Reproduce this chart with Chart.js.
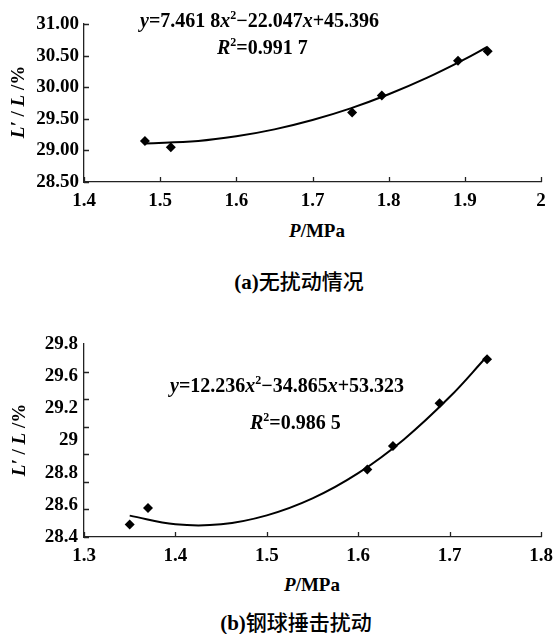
<!DOCTYPE html>
<html>
<head>
<meta charset="utf-8">
<script src="https://cdn.jsdelivr.net/npm/chart.js@4"></script>
<style>
  body { margin: 0; background: #fff; }
  #page { position: relative; width: 556px; height: 634px; overflow: hidden; font-family: 'Liberation Serif', 'Times New Roman', 'DejaVu Serif', serif; color: #000; }
  .box { position: absolute; left: 0; width: 556px; }
  .txt { position: absolute; white-space: nowrap; font-weight: bold; line-height: 1; }
  .eq { font-size: 20px; }
  .ytitle { font-size: 19px; transform: translate(-50%, -50%) rotate(-90deg); }
  .xtitle { font-size: 19px; transform: translate(-50%, -50%); }
  .cap { font-size: 21px; transform: translate(-50%, -50%); }
  .cap .cn { font-family: 'Noto Sans CJK SC', sans-serif; font-weight: 500; }
  sup { font-size: 12px; vertical-align: 8px; line-height: 0; }
</style>
</head>
<body>
<div id="page">
  <div class="box" style="top:0;height:215px"><canvas id="chartA"></canvas></div>
  <div class="box" style="top:320px;height:250px"><canvas id="chartB"></canvas></div>

  <div class="txt eq" style="left:140px;top:10px"><i>y</i>=7.461 8<i>x</i><sup>2</sup>−22.047<i>x</i>+45.396</div>
  <div class="txt eq" style="left:217px;top:37px"><i>R</i><sup>2</sup>=0.991 7</div>
  <div class="txt ytitle" style="left:17px;top:102px"><i>L′</i> / <i>L</i> /%</div>
  <div class="txt xtitle" style="left:317px;top:230px"><i>P</i>/MPa</div>
  <div class="txt cap" style="left:299px;top:281px">(a)<span class="cn">无扰动情况</span></div>

  <div class="txt eq" style="left:170px;top:375px"><i>y</i>=12.236<i>x</i><sup>2</sup>−34.865<i>x</i>+53.323</div>
  <div class="txt eq" style="left:250px;top:412px"><i>R</i><sup>2</sup>=0.986 5</div>
  <div class="txt ytitle" style="left:18px;top:440px"><i>L′</i> / <i>L</i> /%</div>
  <div class="txt xtitle" style="left:312px;top:584px"><i>P</i>/MPa</div>
  <div class="txt cap" style="left:296px;top:622px">(b)<span class="cn">钢球捶击扰动</span></div>
</div>
<script>
// (a) no disturbance
let pressureA = [1.48, 1.514, 1.752, 1.791, 1.891, 1.930];
let ratioA = [29.15, 29.05, 29.60, 29.87, 30.42, 30.57];
let fitXA = [1.48, 1.55, 1.60, 1.65, 1.70, 1.75, 1.80, 1.85, 1.90, 1.93];
let fitYA = [29.111, 29.150, 29.223, 29.333, 29.481, 29.665, 29.888, 30.147, 30.444, 30.640];
let xTicksA = [1.4, 1.5, 1.6, 1.7, 1.8, 1.9, 2];
let xLabelsA = ['1.4', '1.5', '1.6', '1.7', '1.8', '1.9', '2'];
let yTicksA = [28.5, 29, 29.5, 30, 30.5, 31];
let yLabelsA = ['28.50', '29.00', '29.50', '30.00', '30.50', '31.00'];

// (b) steel ball hammering
let pressureB = [1.350, 1.370, 1.610, 1.638, 1.689, 1.741];
let ratioB = [28.49, 28.61, 28.89, 29.06, 29.37, 29.69];
let fitXB = [1.35, 1.40, 1.45, 1.50, 1.55, 1.60, 1.65, 1.70, 1.74];
let fitYB = [28.555, 28.492, 28.492, 28.557, 28.680, 28.863, 29.108, 29.415, 29.704];
let xTicksB = [1.3, 1.4, 1.5, 1.6, 1.7, 1.8];
let xLabelsB = ['1.3', '1.4', '1.5', '1.6', '1.7', '1.8'];
let yTicksB = [28.4, 28.6, 28.8, 29.0, 29.2, 29.4, 29.6, 29.8];
let yLabelsB = ['29.8', '29.6', '29.2', '29', '28.8', '28.6', '28.4'];

Chart.defaults.font.family = "'Liberation Serif', 'Times New Roman', 'DejaVu Serif', serif";
Chart.defaults.font.weight = 'bold';
Chart.defaults.font.size = 19;
Chart.defaults.color = '#000';

let pts = (xs, ys) => xs.map((x, i) => ({ x: x, y: ys[i] }));

// inward tick marks
let innerTicks = {
  id: 'innerTicks',
  afterDraw: (chart) => {
    let ctx = chart.ctx;
    let xs = chart.scales.x;
    let ys = chart.scales.y;
    ctx.save();
    ctx.strokeStyle = '#222';
    ctx.lineWidth = 1.3;
    ctx.beginPath();
    xs.ticks.forEach(t => {
      let px = Math.round(xs.getPixelForValue(t.value)) + 0.5;
      ctx.moveTo(px, xs.top);
      ctx.lineTo(px, xs.top - 5);
    });
    ys.ticks.forEach(t => {
      let py = Math.round(ys.getPixelForValue(t.value)) + 0.5;
      ctx.moveTo(ys.right, py);
      ctx.lineTo(ys.right + 5, py);
    });
    ctx.stroke();
    ctx.restore();
  }
};

let makeChart = (canvas, px, py, fx, fy, xT, xL, yT, yL, padBottom, catLabels) => {
  let scales = {
    x: {
      type: 'linear',
      min: xT[0],
      max: xT[xT.length - 1],
      afterBuildTicks: s => { s.ticks = xT.map(v => ({ value: v })); },
      afterFit: s => { s.height = 30; s.paddingLeft = 0; s.paddingRight = 0; },
      ticks: { padding: 8, callback: (v, i) => xL[i] },
      grid: { drawOnChartArea: false, drawTicks: false },
      border: { color: '#222', width: 1.3 }
    },
    y: {
      type: 'linear',
      weight: 0,
      min: yT[0],
      max: yT[yT.length - 1],
      afterBuildTicks: s => { s.ticks = yT.map(v => ({ value: v })); },
      afterFit: s => { s.width = catLabels ? 0 : 74; },
      ticks: { display: !catLabels, padding: 5, callback: (v, i) => yL[i] },
      grid: { drawOnChartArea: false, drawTicks: false },
      border: { color: '#222', width: 1.3 }
    }
  };
  if (catLabels) {
    scales.yLab = {
      type: 'category',
      position: 'left',
      weight: 1,
      offset: false,
      labels: catLabels,
      afterFit: s => { s.width = 74; },
      ticks: { padding: 6 },
      grid: { display: false, drawTicks: false },
      border: { display: false }
    };
  }
  return new Chart(canvas, {
    type: 'scatter',
    data: {
      datasets: [{
        label: 'fit',
        data: pts(fx, fy),
        showLine: true,
        tension: 0.4,
        borderColor: '#000',
        borderWidth: 2,
        pointRadius: 0,
        order: 2
      }, {
        label: 'data',
        data: pts(px, py),
        pointStyle: 'rectRot',
        pointRadius: 5,
        backgroundColor: '#000',
        borderColor: '#000',
        borderWidth: 0,
        order: 1
      }]
    },
    options: {
      responsive: true,
      maintainAspectRatio: false,
      animation: false,
      layout: { padding: { left: 10, top: 24, right: 15, bottom: padBottom } },
      scales: scales,
      plugins: { legend: { display: false }, tooltip: { enabled: false } }
    },
    plugins: [innerTicks]
  });
};

makeChart(document.getElementById('chartA'), pressureA, ratioA, fitXA, fitYA,
  xTicksA, xLabelsA, yTicksA, yLabelsA, 215 - 182 - 30, null);
makeChart(document.getElementById('chartB'), pressureB, ratioB, fitXB, fitYB,
  xTicksB, xLabelsB, yTicksB, yLabelsB, 250 - 217 - 30, yLabelsB);
</script>
</body>
</html>
